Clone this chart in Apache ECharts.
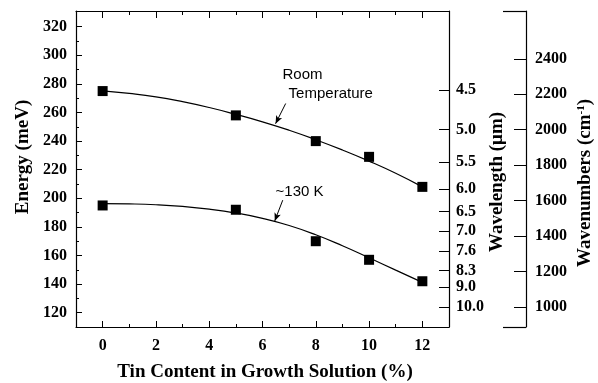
<!DOCTYPE html>
<html>
<head>
<meta charset="utf-8">
<script src="https://cdn.jsdelivr.net/npm/echarts@6/dist/echarts.min.js"></script>
<style>html,body{margin:0;padding:0;background:#fff}#c{width:598px;height:383px}</style>
</head>
<body>
<div id="c"></div>
<script>
// ---- data ----
const tinContent = [0, 5, 8, 10, 12];
const roomTempEnergy = [275, 258, 240, 229, 208];
const k130Energy = [195, 192, 170, 157, 142];
const fitX = [0, 1, 2, 3, 4, 5, 6, 7, 8, 9, 10, 11, 12];
const roomTempFit = [275.2, 273.4, 271, 267.6, 263.5, 258.7, 253.5, 247.6, 241, 233.8, 226, 217.5, 208];
const k130Fit = [196.3, 196.1, 195.5, 194.3, 192.4, 189.7, 186.0, 181.0, 174.5, 166.8, 158.4, 149.8, 141.2];
const xMajorTicks = [0, 2, 4, 6, 8, 10, 12];
const xMinorTicks = [1, 3, 5, 7, 9, 11];
const energyTicks = [120, 140, 160, 180, 200, 220, 240, 260, 280, 300, 320];
const energyMinorTicks = [130, 150, 170, 190, 210, 230, 250, 270, 290, 310];
const wavelengthLabels = ['4.5', '5.0', '5.5', '6.0', '6.5', '7.0', '7.6', '8.3', '9.0', '10.0'];
const wavenumberTicks = [1000, 1200, 1400, 1600, 1800, 2000, 2200, 2400];

const E_MIN = 110, E_MAX = 331;
const HC = 1239.84;       // meV·µm
const MEV_PER_CM = 0.123984;
const wavelengthEnergies = wavelengthLabels.map(l => HC / parseFloat(l));

const serif = '"Liberation Serif", "Times New Roman", serif';
const sans = '"Liberation Sans", Arial, sans-serif';
const tickFont = { fontFamily: serif, fontWeight: 'bold', fontSize: 16, color: '#000' };
const black = '#000';

const chart = echarts.init(document.getElementById('c'), null, { renderer: 'canvas' });

const gridDef = { left: 76, right: 149, top: 11, bottom: 56, containLabel: false };

function hiddenLabel() { return { show: false }; }

const option = {
  animation: false,
  backgroundColor: '#fff',
  grid: gridDef,
  xAxis: [
    { type: 'value', position: 'bottom', min: -1, max: 13,
      axisLine: { show: true, onZero: false, lineStyle: { color: black, width: 1.2 } },
      axisTick: { show: true, inside: true, length: 6, customValues: xMajorTicks, lineStyle: { color: black } },
      axisLabel: Object.assign({ show: true, margin: 11, customValues: xMajorTicks, formatter: v => String(v) }, tickFont),
      splitLine: { show: false } },
    { type: 'value', position: 'bottom', min: -1, max: 13,
      axisLine: { show: false, onZero: false },
      axisTick: { show: true, inside: true, length: 3, customValues: xMinorTicks, lineStyle: { color: black } },
      axisLabel: hiddenLabel(), splitLine: { show: false } },
    { type: 'value', position: 'top', min: -1, max: 13,
      axisLine: { show: true, onZero: false, lineStyle: { color: black, width: 1.2 } },
      axisTick: { show: true, inside: true, length: 7, customValues: xMajorTicks, lineStyle: { color: black } },
      axisLabel: hiddenLabel(), splitLine: { show: false } },
    { type: 'value', position: 'top', min: -1, max: 13,
      axisLine: { show: false, onZero: false },
      axisTick: { show: true, inside: true, length: 4, customValues: xMinorTicks, lineStyle: { color: black } },
      axisLabel: hiddenLabel(), splitLine: { show: false } }
  ],
  yAxis: [
    { type: 'value', position: 'left', min: E_MIN, max: E_MAX,
      axisLine: { show: true, onZero: false, lineStyle: { color: black, width: 1.2 } },
      axisTick: { show: true, inside: true, length: 6, customValues: energyTicks, lineStyle: { color: black } },
      axisLabel: Object.assign({ show: true, margin: 9, customValues: energyTicks, formatter: v => String(v) }, tickFont),
      splitLine: { show: false } },
    { type: 'value', position: 'left', min: E_MIN, max: E_MAX,
      axisLine: { show: false, onZero: false },
      axisTick: { show: true, inside: true, length: 3, customValues: energyMinorTicks, lineStyle: { color: black } },
      axisLabel: hiddenLabel(), splitLine: { show: false } },
    { type: 'value', position: 'right', offset: 0, min: E_MIN, max: E_MAX,
      axisLine: { show: true, onZero: false, lineStyle: { color: black, width: 1.2 } },
      axisTick: { show: true, inside: true, length: 10, customValues: wavelengthEnergies, lineStyle: { color: black } },
      axisLabel: Object.assign({ show: true, margin: 7, customValues: wavelengthEnergies,
        formatter: function (v) {
          let best = 0, d = Infinity;
          wavelengthEnergies.forEach((e, i) => { if (Math.abs(e - v) < d) { d = Math.abs(e - v); best = i; } });
          return wavelengthLabels[best];
        } }, tickFont),
      splitLine: { show: false } },
    { type: 'value', position: 'right', offset: 77, min: E_MIN / MEV_PER_CM, max: E_MAX / MEV_PER_CM,
      axisLine: { show: true, onZero: false, lineStyle: { color: black, width: 1.2 } },
      axisTick: { show: true, inside: true, length: 12, customValues: wavenumberTicks, lineStyle: { color: black } },
      axisLabel: Object.assign({ show: true, margin: 9, customValues: wavenumberTicks, formatter: v => String(v) }, tickFont),
      splitLine: { show: false } },
    { type: 'value', position: 'right', offset: 77, min: E_MIN / MEV_PER_CM, max: E_MAX / MEV_PER_CM,
      axisLine: { show: false, onZero: false },
      axisTick: { show: true, inside: true, length: 23, customValues: [E_MIN / MEV_PER_CM, E_MAX / MEV_PER_CM], lineStyle: { color: black, width: 1.2 } },
      axisLabel: hiddenLabel(), splitLine: { show: false } }
  ],
  series: [
    { name: 'RT fit', type: 'line', smooth: true, showSymbol: false, symbol: 'none',
      data: fitX.map((x, i) => [x, roomTempFit[i]]),
      lineStyle: { color: black, width: 1.2 }, z: 2,
      markLine: { silent: true, animation: false, label: { show: false },
        lineStyle: { color: black, width: 1, type: 'solid' },
        data: [[{ coord: [6.87, 266.3], symbol: 'none' }, { coord: [6.49, 252.2], symbol: 'arrow', symbolSize: [5, 8] }]] } },
    { name: '130K fit', type: 'line', smooth: true, showSymbol: false, symbol: 'none',
      data: fitX.map((x, i) => [x, k130Fit[i]]),
      lineStyle: { color: black, width: 1.2 }, z: 2,
      markLine: { silent: true, animation: false, label: { show: false },
        lineStyle: { color: black, width: 1, type: 'solid' },
        data: [[{ coord: [6.76, 198.7], symbol: 'none' }, { coord: [6.46, 184.2], symbol: 'arrow', symbolSize: [5, 8] }]] } },
    { name: 'Room Temperature', type: 'scatter', symbol: 'rect', symbolSize: 10,
      data: tinContent.map((x, i) => [x, roomTempEnergy[i]]),
      itemStyle: { color: black, opacity: 1 }, z: 3 },
    { name: '~130 K', type: 'scatter', symbol: 'rect', symbolSize: 10,
      data: tinContent.map((x, i) => [x, k130Energy[i]]),
      itemStyle: { color: black, opacity: 1 }, z: 3 }
  ]
};
chart.setOption(option);

function px(x, y) { return chart.convertToPixel({ xAxisIndex: 0, yAxisIndex: 0 }, [x, y]); }
const titleFont = 'bold 19px ' + serif;
const annFont = '15px ' + sans;
const pRoom = px(6.75, 286.6);
const pTemp = px(6.98, 273.3);
const pK = px(6.49, 204.3);

chart.setOption({
  graphic: [
    { type: 'text', x: 23, y: 157, rotation: Math.PI / 2,
      style: { text: 'Energy (meV)', font: titleFont, fill: black, align: 'center', verticalAlign: 'middle' } },
    { type: 'text', x: 265, y: 372,
      style: { text: 'Tin Content in Growth Solution (%)', font: titleFont, fill: black, align: 'center', verticalAlign: 'middle' } },
    { type: 'text', x: 497, y: 182, rotation: Math.PI / 2,
      style: { text: 'Wavelength (\u03bcm)', font: titleFont, fill: black, align: 'center', verticalAlign: 'middle' } },
    { type: 'text', x: 585, y: 183, rotation: Math.PI / 2,
      style: { text: '{a|Wavenumbers (cm}{s|-1}{a|)}', fill: black, align: 'center', verticalAlign: 'middle',
        rich: { a: { font: titleFont, fill: black, verticalAlign: 'bottom' },
                s: { font: 'bold 11px ' + serif, fill: black, verticalAlign: 'top', padding: [0, 0, 8, 0] } } } },
    { type: 'text', x: pRoom[0], y: pRoom[1],
      style: { text: 'Room', font: annFont, fill: black, align: 'left', verticalAlign: 'middle' } },
    { type: 'text', x: pTemp[0], y: pTemp[1],
      style: { text: 'Temperature', font: annFont, fill: black, align: 'left', verticalAlign: 'middle' } },
    { type: 'text', x: pK[0], y: pK[1],
      style: { text: '~130 K', font: annFont, fill: black, align: 'left', verticalAlign: 'middle' } }
  ]
});
</script>
</body>
</html>
